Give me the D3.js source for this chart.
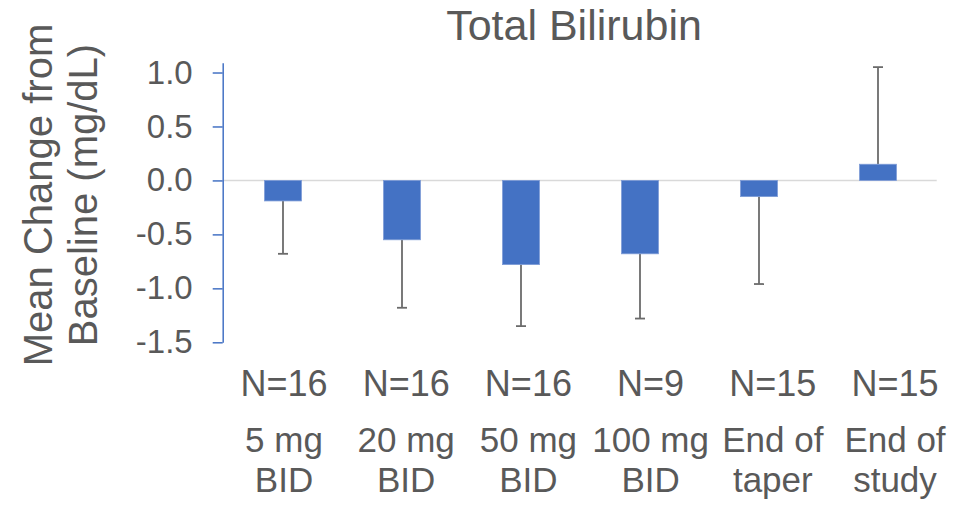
<!DOCTYPE html>
<html>
<head>
<meta charset="utf-8">
<script src="https://cdn.jsdelivr.net/npm/d3@7"></script>
<style>
  html, body { margin: 0; padding: 0; background: #fff; }
  svg { display: block; }
  text { font-family: "Liberation Sans", Arial, sans-serif; fill: #595959; }
</style>
</head>
<body>
<svg id="chart" width="953" height="506"></svg>
<script>
// Mean change from baseline in total bilirubin (mg/dL), with one-sided SD bars
const categories = ["5 mg BID", "20 mg BID", "50 mg BID", "100 mg BID", "End of taper", "End of study"];
const categoryLines = [["5 mg", "BID"], ["20 mg", "BID"], ["50 mg", "BID"], ["100 mg", "BID"], ["End of", "taper"], ["End of", "study"]];
const sampleSizes = ["N=16", "N=16", "N=16", "N=9", "N=15", "N=15"];
const meanChange = [-0.19, -0.55, -0.78, -0.68, -0.15, 0.15];
const sdChange = [0.49, 0.63, 0.57, 0.60, 0.81, 0.90];
const yTicks = [-1.5, -1.0, -0.5, 0.0, 0.5, 1.0];

const svg = d3.select("#chart");

const x = d3.scaleBand()
  .domain(categories)
  .range([223.5, 937.5])
  .paddingInner(0.69)
  .paddingOuter(0.345);

// label row sits on its own, slightly wider spacing
const xLabel = d3.scalePoint()
  .domain(categories)
  .range([284, 895]);

const y = d3.scaleLinear()
  .domain([-1.5, 1.09])
  .range([342.3, 62.8]);

// title
svg.append("text")
  .attr("x", 574)
  .attr("y", 40)
  .attr("text-anchor", "middle")
  .style("font-size", "43px")
  .text("Total Bilirubin");

// y axis title (two lines)
const yTitle = svg.append("text")
  .attr("transform", "rotate(-90)")
  .attr("text-anchor", "middle")
  .style("font-size", "40px");
yTitle.append("tspan").attr("x", -195).attr("y", 52).text("Mean Change from");
yTitle.append("tspan").attr("x", -195).attr("y", 97).text("Baseline (mg/dL)");

// zero reference line
svg.append("line")
  .attr("x1", x.range()[0] - 0.8).attr("x2", x.range()[1] - 0.8)
  .attr("y1", y(0)).attr("y2", y(0))
  .attr("stroke", "#d9d9d9")
  .attr("stroke-width", 1.5);

// y axis
const yAxis = d3.axisLeft(y)
  .tickValues(yTicks)
  .tickFormat(d3.format(".1f"))
  .tickSize(10)
  .tickPadding(20)
  .tickSizeOuter(0);

const yAxisG = svg.append("g")
  .attr("transform", "translate(222.7,0)")
  .call(yAxis);
yAxisG.select(".domain").attr("stroke", "#4472c4").attr("stroke-width", 1.5);
yAxisG.selectAll(".tick line").attr("stroke", "#4472c4").attr("stroke-width", 1.5);
yAxisG.selectAll(".tick text")
  .style("font-size", "33px")
  .style("font-family", "'Liberation Sans', Arial, sans-serif")
  .attr("fill", "#595959")
  .text(d => d3.format(".1f")(d).replace("−", "-"));

// error bars, drawn away from zero
const errG = svg.append("g").attr("stroke", "#6b6b6b").attr("stroke-width", 1.8);
categories.forEach((c, i) => {
  const cx = x(c) + x.bandwidth() / 2;
  const m = meanChange[i];
  const end = m >= 0 ? m + sdChange[i] : m - sdChange[i];
  errG.append("line")
    .attr("x1", cx).attr("x2", cx)
    .attr("y1", y(m)).attr("y2", y(end));
  errG.append("line")
    .attr("x1", cx - 5).attr("x2", cx + 5)
    .attr("y1", y(end)).attr("y2", y(end));
});

// bars
svg.append("g")
  .selectAll("rect")
  .data(categories)
  .join("rect")
  .attr("x", d => x(d))
  .attr("width", x.bandwidth())
  .attr("y", (d, i) => y(Math.max(0, meanChange[i])))
  .attr("height", (d, i) => Math.abs(y(meanChange[i]) - y(0)))
  .attr("fill", "#4472c4")
  .attr("stroke", "#7d9bd6")
  .attr("stroke-width", 0.8);

// sample size labels
svg.append("g")
  .selectAll("text")
  .data(categories)
  .join("text")
  .attr("x", d => xLabel(d))
  .attr("y", 396)
  .attr("text-anchor", "middle")
  .style("font-size", "36px")
  .text((d, i) => sampleSizes[i]);

// category labels (two lines each)
const catG = svg.append("g");
categories.forEach((c, i) => {
  const t = catG.append("text")
    .attr("text-anchor", "middle")
    .style("font-size", "35px");
  categoryLines[i].forEach((line, k) => {
    t.append("tspan")
      .attr("x", xLabel(c))
      .attr("y", 452 + k * 40)
      .text(line);
  });
});
</script>
</body>
</html>
